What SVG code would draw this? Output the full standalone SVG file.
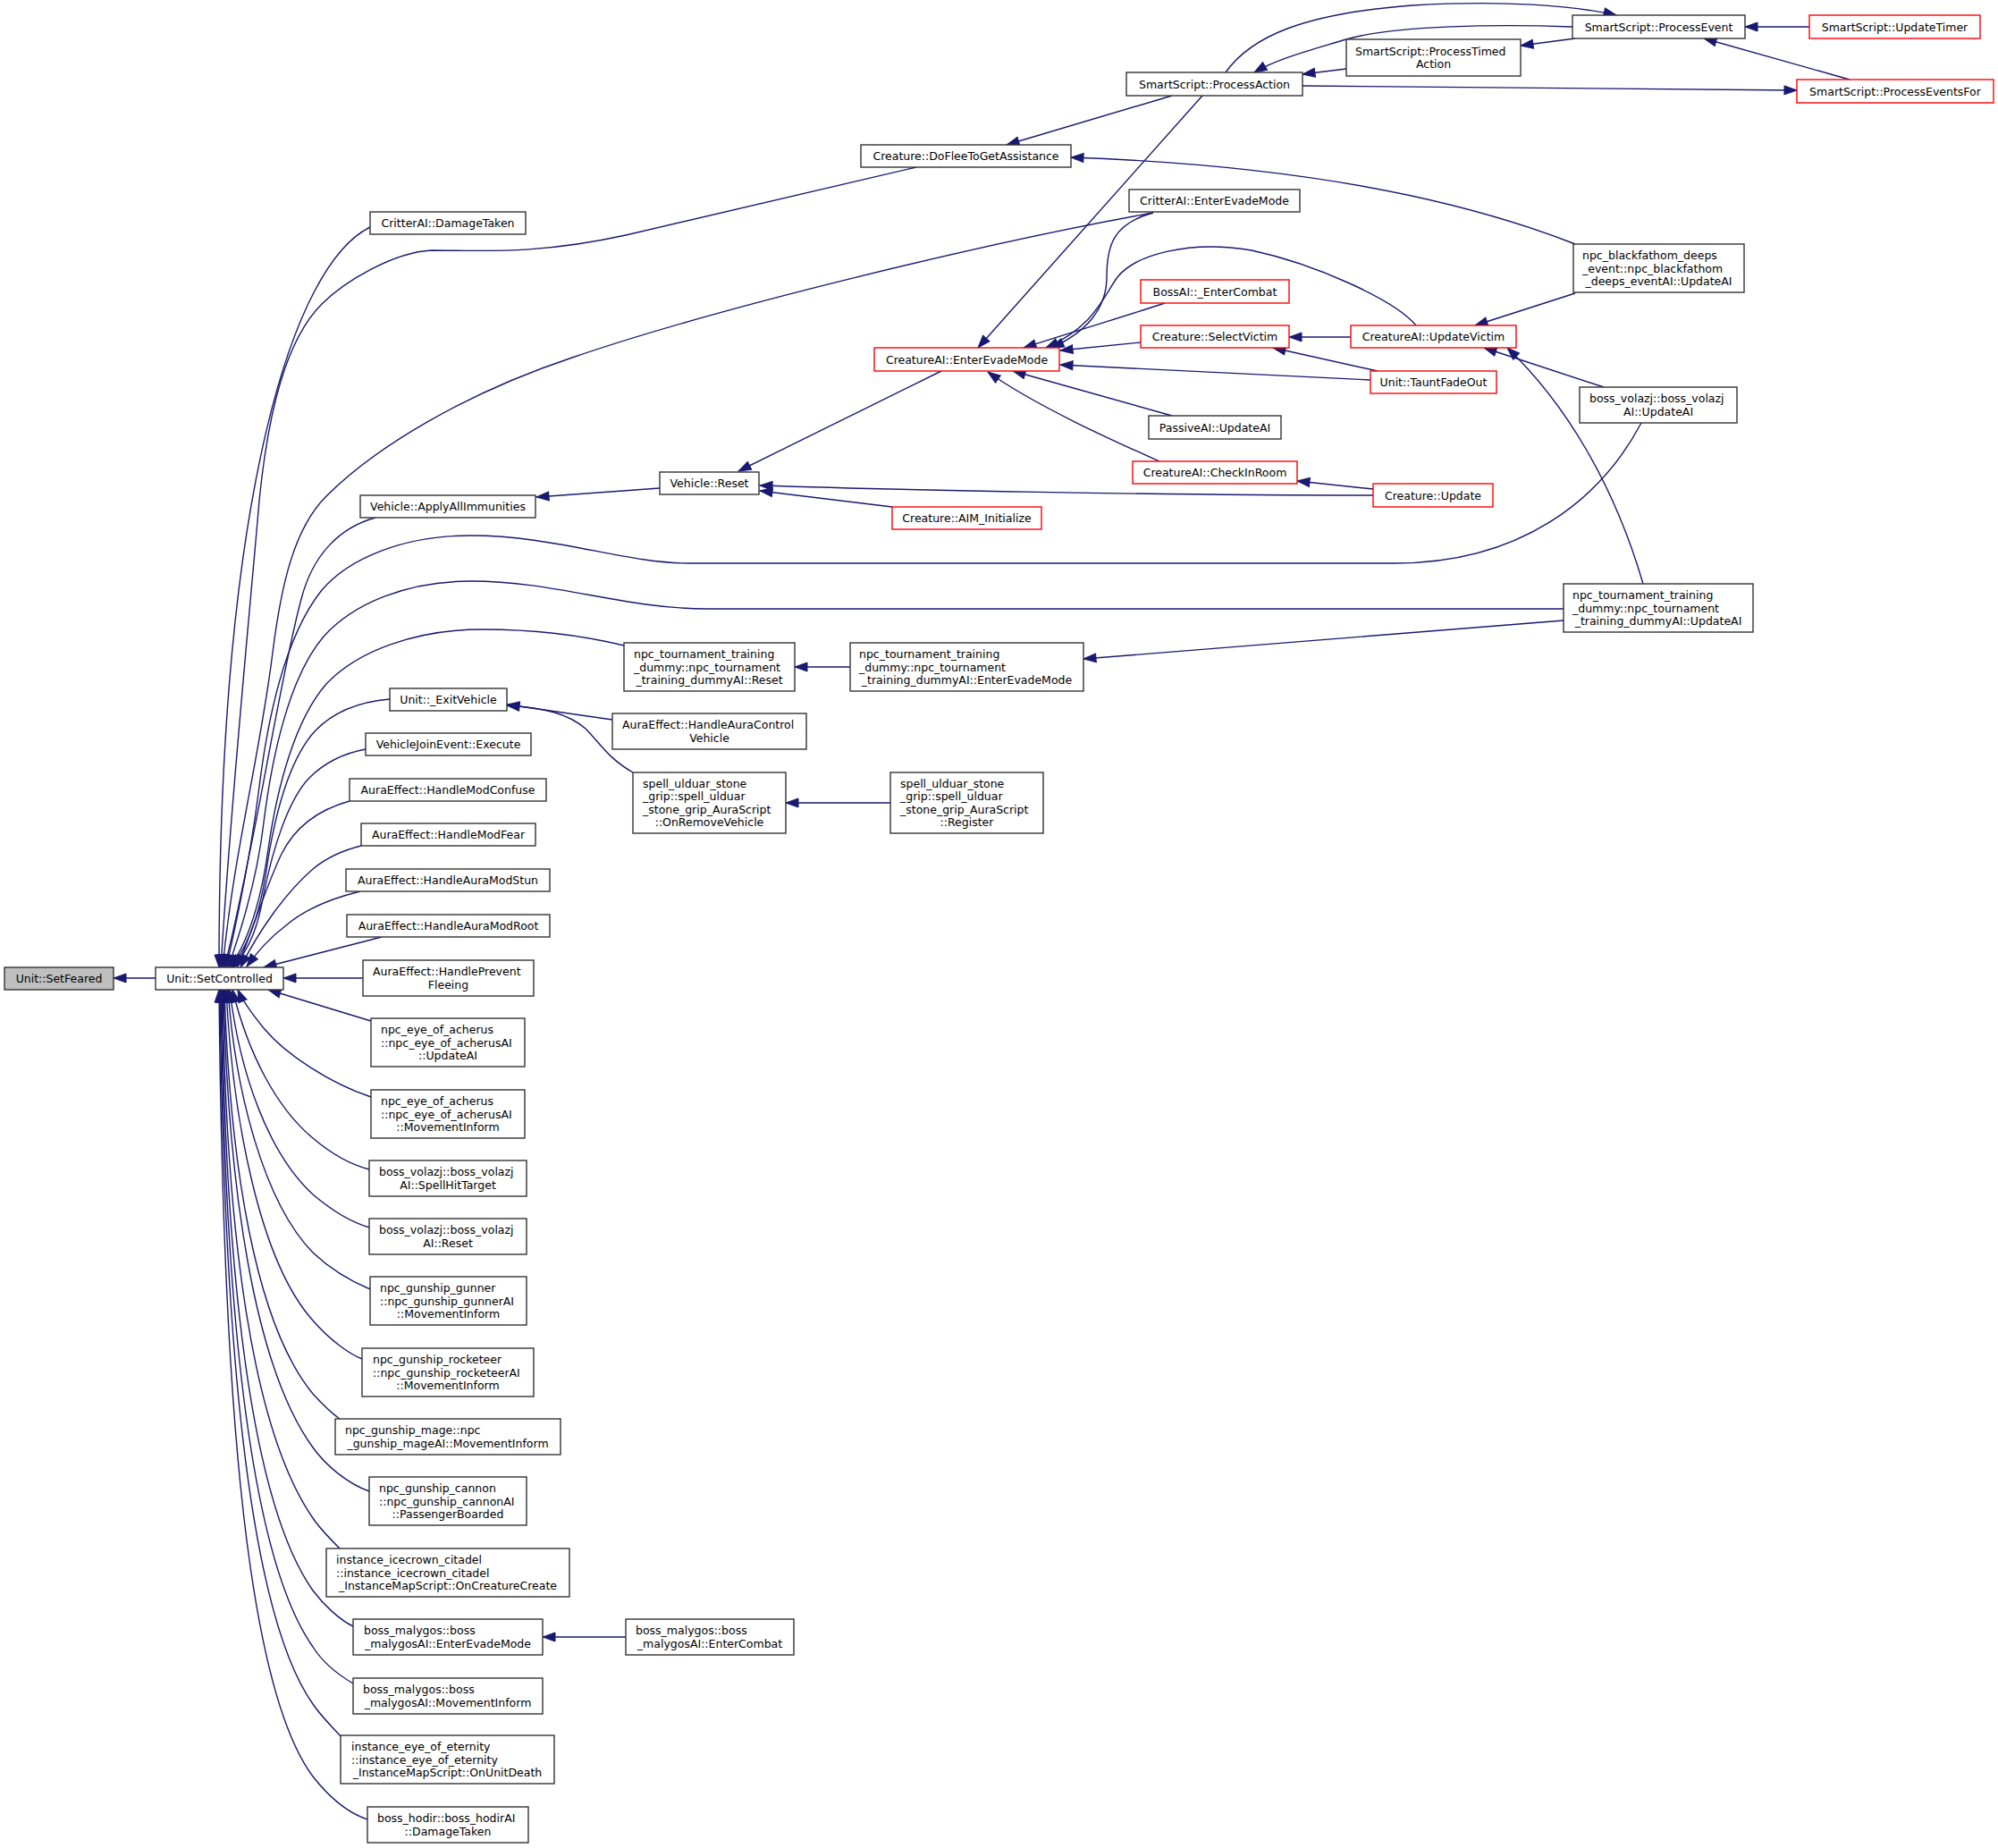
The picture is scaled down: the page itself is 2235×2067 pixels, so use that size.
<svg xmlns="http://www.w3.org/2000/svg" width="2235" height="2067" viewBox="0 0 2235 2067">
<style>
.n{fill:#fff;stroke:#333;stroke-width:1.4}
.r{fill:#fff;stroke:#ff0000;stroke-width:1.4}
.g{fill:#bfbfbf;stroke:#333;stroke-width:1.4}
text{font-family:"DejaVu Sans","Liberation Sans",sans-serif;font-size:12.5px;fill:#000}
.c{text-anchor:middle}
.e{fill:none;stroke:#191970;stroke-width:1.4;marker-end:url(#a)}
</style>
<defs>
<marker id="a" markerUnits="userSpaceOnUse" markerWidth="15" markerHeight="11" viewBox="0 0 15 11" refX="14" refY="5" orient="auto" overflow="visible">
<path d="M0,0 L14,5 L0,10 z" fill="#191970" stroke="#191970" stroke-width="1"/>
</marker>
</defs>
<rect width="2235" height="2067" fill="#fff"/>
<g id="edges">
<path class="e" d="M174,1094 L127,1094"/>
<path class="e" d="M414,254 C330,295 245,544 245,1082"/>
<path class="e" d="M1025,187 L700,263 C600,285 540,280 483,280 C440,282 385,315 360,340 C320,380 300,460 290,560 C278,700 258,900 247,1082"/>
<path class="e" d="M1290,238 C1100,272 800,345 640,400 C520,440 420,500 365,555 C330,590 315,650 305,730 C290,850 262,950 249,1082"/>
<path class="e" d="M420,579 C380,590 350,620 337,670 C318,740 295,880 280,950 C272,990 262,1040 251,1082"/>
<path class="e" d="M1836,473 C1790,560 1700,630 1560,630 L770,630 C700,630 620,599 527,599 C450,599 390,625 360,660 C320,710 300,800 290,880 C280,960 265,1030 253,1082"/>
<path class="e" d="M1749,681 L790,681 C700,681 620,650 527,650 C455,650 395,675 362,712 C325,755 305,840 295,920 C288,980 270,1040 255,1082"/>
<path class="e" d="M698,722 C640,708 590,704 540,704 C465,704 400,728 365,765 C330,805 310,880 300,950 C293,1000 280,1050 257,1082"/>
<path class="e" d="M436,782 C400,785 372,797 352,818 C325,848 310,900 300,960 C293,1010 283,1050 259,1082"/>
<path class="e" d="M409,838 C382,843 362,854 346,870 C322,895 305,950 295,1000 C288,1040 278,1062 261,1082"/>
<path class="e" d="M391,896 C355,906 330,925 315,955 C298,990 283,1040 265,1082"/>
<path class="e" d="M404,946 C380,952 362,962 350,972 C320,998 290,1040 269,1082"/>
<path class="e" d="M403,997 C370,1005 340,1018 320,1035 C300,1050 288,1065 276,1081"/>
<path class="e" d="M427,1048 L295,1082"/>
<path class="e" d="M406,1094 L317,1094"/>
<path class="e" d="M415,1142 L300,1107"/>
<path class="e" d="M415,1227 C370,1212 320,1180 295,1150 C282,1134 272,1121 266,1107"/>
<path class="e" d="M413,1308 C390,1302 370,1290 350,1273 C310,1240 278,1180 260,1107"/>
<path class="e" d="M413,1373 C390,1366 370,1353 350,1336 C300,1290 268,1200 257,1107"/>
<path class="e" d="M414,1442 C390,1432 368,1418 350,1401 C295,1345 263,1220 255,1107"/>
<path class="e" d="M405,1520 C392,1515 370,1500 350,1477 C290,1410 260,1250 253,1107"/>
<path class="e" d="M380,1587 C370,1580 360,1570 350,1559 C285,1480 257,1300 251,1107"/>
<path class="e" d="M413,1668 C390,1660 365,1640 350,1619 C285,1530 255,1330 250,1107"/>
<path class="e" d="M380,1732 C370,1722 358,1710 350,1698 C282,1600 253,1380 249,1107"/>
<path class="e" d="M395,1819 C380,1812 362,1795 350,1779 C280,1680 252,1420 248,1107"/>
<path class="e" d="M395,1883 C378,1873 360,1858 350,1842 C278,1740 251,1450 247,1107"/>
<path class="e" d="M381,1942 C370,1930 358,1918 350,1906 C275,1800 250,1480 246,1107"/>
<path class="e" d="M411,2035 C390,2028 368,2010 350,1987 C270,1880 249,1520 245,1107"/>
<path class="e" d="M738,546 L600,556"/>
<path class="e" d="M1053,415 L826,527"/>
<path class="e" d="M998,567 L850,549"/>
<path class="e" d="M1536,554 C1300,554 1000,548 850,543"/>
<path class="e" d="M1311,107 L1126,162"/>
<path class="e" d="M1762,273 C1640,225 1460,185 1198,176"/>
<path class="e" d="M1345,107 L1094,389"/>
<path class="e" d="M1290,238 C1245,250 1238,275 1238,310 C1238,345 1215,372 1176,389"/>
<path class="e" d="M1584,364 C1560,335 1470,295 1400,280 C1330,268 1270,285 1250,310 C1235,330 1225,365 1170,389"/>
<path class="e" d="M1303,339 C1270,350 1220,365 1145,389"/>
<path class="e" d="M1276,383 L1186,392"/>
<path class="e" d="M1533,425 L1186,408"/>
<path class="e" d="M1311,465 L1133,415"/>
<path class="e" d="M1297,516 C1250,495 1160,455 1105,416"/>
<path class="e" d="M1506,77 L1457,83"/>
<path class="e" d="M1759,30 C1680,27 1560,28 1506,44 C1470,55 1430,65 1403,81"/>
<path class="e" d="M1371,81 C1400,40 1460,15 1580,6 C1680,0 1760,6 1808,17"/>
<path class="e" d="M1762,43 L1701,51"/>
<path class="e" d="M2024,30 L1952,30"/>
<path class="e" d="M2069,89 L1906,43"/>
<path class="e" d="M1457,96 L2010,101"/>
<path class="e" d="M1511,377 L1442,377"/>
<path class="e" d="M1541,415 L1424,389"/>
<path class="e" d="M1762,328 L1650,364"/>
<path class="e" d="M1794,433 L1660,389"/>
<path class="e" d="M1838,653 C1805,540 1750,450 1686,389"/>
<path class="e" d="M1536,547 L1451,538"/>
<path class="e" d="M1749,694 L1212,737"/>
<path class="e" d="M951,746 L889,746"/>
<path class="e" d="M685,805 L567,788"/>
<path class="e" d="M708,864 C680,848 670,830 655,815 C635,798 610,792 567,789"/>
<path class="e" d="M996,898 L879,898"/>
<path class="e" d="M700,1831 L607,1831"/>
</g>
<g id="n_setfeared"><rect class="g" x="5" y="1082" width="122" height="25"/><text class="c" x="66" y="1099">Unit::SetFeared</text></g>
<g id="n_setcontrolled"><rect class="n" x="174" y="1082" width="143" height="25"/><text class="c" x="245.5" y="1099">Unit::SetControlled</text></g>
<g id="n_critterdamage"><rect class="n" x="414" y="237" width="174" height="25"/><text class="c" x="501" y="254">CritterAI::DamageTaken</text></g>
<g id="n_applyall"><rect class="n" x="403" y="554" width="196" height="25"/><text class="c" x="501" y="571">Vehicle::ApplyAllImmunities</text></g>
<g id="n_exitvehicle"><rect class="n" x="436" y="770" width="131" height="25"/><text class="c" x="501.5" y="787">Unit::_ExitVehicle</text></g>
<g id="n_vehiclejoin"><rect class="n" x="409" y="820" width="185" height="25"/><text class="c" x="501.5" y="837">VehicleJoinEvent::Execute</text></g>
<g id="n_confuse"><rect class="n" x="391" y="871" width="220" height="25"/><text class="c" x="501" y="888">AuraEffect::HandleModConfuse</text></g>
<g id="n_fear"><rect class="n" x="404" y="921" width="195" height="25"/><text class="c" x="501.5" y="938">AuraEffect::HandleModFear</text></g>
<g id="n_stun"><rect class="n" x="387" y="972" width="228" height="25"/><text class="c" x="501" y="989">AuraEffect::HandleAuraModStun</text></g>
<g id="n_root"><rect class="n" x="388" y="1023" width="227" height="25"/><text class="c" x="501.5" y="1040">AuraEffect::HandleAuraModRoot</text></g>
<g id="n_prevent"><rect class="n" x="406" y="1074" width="191" height="40"/><text x="417" y="1091.4">AuraEffect::HandlePrevent</text><text class="c" x="501.5" y="1105.7">Fleeing</text></g>
<g id="n_eyeupd"><rect class="n" x="415" y="1139" width="172" height="54"/><text x="426" y="1156.2">npc_eye_of_acherus</text><text x="426" y="1170.5">::npc_eye_of_acherusAI</text><text class="c" x="501" y="1184.8">::UpdateAI</text></g>
<g id="n_eyemove"><rect class="n" x="415" y="1219" width="172" height="54"/><text x="426" y="1236.2">npc_eye_of_acherus</text><text x="426" y="1250.5">::npc_eye_of_acherusAI</text><text class="c" x="501" y="1264.8">::MovementInform</text></g>
<g id="n_volspell"><rect class="n" x="413" y="1298" width="176" height="40"/><text x="424" y="1315.4">boss_volazj::boss_volazj</text><text class="c" x="501" y="1329.7">AI::SpellHitTarget</text></g>
<g id="n_volreset"><rect class="n" x="413" y="1363" width="176" height="40"/><text x="424" y="1380.4">boss_volazj::boss_volazj</text><text class="c" x="501" y="1394.7">AI::Reset</text></g>
<g id="n_gunner"><rect class="n" x="414" y="1428" width="175" height="54"/><text x="425" y="1445.2">npc_gunship_gunner</text><text x="425" y="1459.5">::npc_gunship_gunnerAI</text><text class="c" x="501.5" y="1473.8">::MovementInform</text></g>
<g id="n_rocket"><rect class="n" x="405" y="1508" width="192" height="54"/><text x="417" y="1525.2">npc_gunship_rocketeer</text><text x="417" y="1539.5">::npc_gunship_rocketeerAI</text><text class="c" x="501" y="1553.8">::MovementInform</text></g>
<g id="n_mage"><rect class="n" x="375" y="1587" width="252" height="40"/><text x="386" y="1604.4">npc_gunship_mage::npc</text><text class="c" x="501" y="1618.7">_gunship_mageAI::MovementInform</text></g>
<g id="n_cannon"><rect class="n" x="413" y="1652" width="176" height="54"/><text x="424" y="1669.2">npc_gunship_cannon</text><text x="424" y="1683.5">::npc_gunship_cannonAI</text><text class="c" x="501" y="1697.8">::PassengerBoarded</text></g>
<g id="n_icecrown"><rect class="n" x="365" y="1732" width="272" height="54"/><text x="376" y="1749.2">instance_icecrown_citadel</text><text x="376" y="1763.5">::instance_icecrown_citadel</text><text class="c" x="501" y="1777.8">_InstanceMapScript::OnCreatureCreate</text></g>
<g id="n_malyevade"><rect class="n" x="395" y="1811" width="212" height="40"/><text x="407" y="1828.4">boss_malygos::boss</text><text class="c" x="501" y="1842.7">_malygosAI::EnterEvadeMode</text></g>
<g id="n_malymove"><rect class="n" x="395" y="1877" width="212" height="40"/><text x="406" y="1894.4">boss_malygos::boss</text><text class="c" x="501" y="1908.7">_malygosAI::MovementInform</text></g>
<g id="n_eternity"><rect class="n" x="381" y="1941" width="239" height="54"/><text x="393" y="1958.2">instance_eye_of_eternity</text><text x="393" y="1972.5">::instance_eye_of_eternity</text><text class="c" x="500.5" y="1986.8">_InstanceMapScript::OnUnitDeath</text></g>
<g id="n_hodir"><rect class="n" x="411" y="2021" width="180" height="40"/><text x="422" y="2038.4">boss_hodir::boss_hodirAI</text><text class="c" x="501" y="2052.7">::DamageTaken</text></g>
<g id="n_malycombat"><rect class="n" x="700" y="1811" width="188" height="40"/><text x="711" y="1828.4">boss_malygos::boss</text><text class="c" x="794" y="1842.7">_malygosAI::EnterCombat</text></g>
<g id="n_tourreset"><rect class="n" x="698" y="719" width="191" height="54"/><text x="709" y="736.2">npc_tournament_training</text><text x="709" y="750.5">_dummy::npc_tournament</text><text class="c" x="793.5" y="764.8">_training_dummyAI::Reset</text></g>
<g id="n_tourevade"><rect class="n" x="951" y="719" width="261" height="54"/><text x="961" y="736.2">npc_tournament_training</text><text x="961" y="750.5">_dummy::npc_tournament</text><text class="c" x="1081.5" y="764.8">_training_dummyAI::EnterEvadeMode</text></g>
<g id="n_auractrl"><rect class="n" x="685" y="798" width="217" height="40"/><text x="696" y="815.4">AuraEffect::HandleAuraControl</text><text class="c" x="793.5" y="829.7">Vehicle</text></g>
<g id="n_uldremove"><rect class="n" x="708" y="864" width="171" height="68"/><text x="719" y="881">spell_ulduar_stone</text><text x="719" y="895.3">_grip::spell_ulduar</text><text x="719" y="909.6">_stone_grip_AuraScript</text><text class="c" x="793.5" y="923.9">::OnRemoveVehicle</text></g>
<g id="n_uldregister"><rect class="n" x="996" y="864" width="171" height="68"/><text x="1007" y="881">spell_ulduar_stone</text><text x="1007" y="895.3">_grip::spell_ulduar</text><text x="1007" y="909.6">_stone_grip_AuraScript</text><text class="c" x="1081.5" y="923.9">::Register</text></g>
<g id="n_vehreset"><rect class="n" x="738" y="528" width="111" height="25"/><text class="c" x="793.5" y="545">Vehicle::Reset</text></g>
<g id="n_aiminit"><rect class="r" x="998" y="567" width="167" height="25"/><text class="c" x="1081.5" y="584">Creature::AIM_Initialize</text></g>
<g id="n_doflee"><rect class="n" x="963" y="162" width="235" height="25"/><text class="c" x="1080.5" y="179">Creature::DoFleeToGetAssistance</text></g>
<g id="n_enterevade"><rect class="r" x="978" y="389" width="207" height="26"/><text class="c" x="1081.5" y="406.5">CreatureAI::EnterEvadeMode</text></g>
<g id="n_processaction"><rect class="n" x="1260" y="81" width="197" height="26"/><text class="c" x="1358.5" y="98.5">SmartScript::ProcessAction</text></g>
<g id="n_proctimed"><rect class="n" x="1506" y="44" width="195" height="41"/><text x="1516" y="61.6">SmartScript::ProcessTimed</text><text class="c" x="1603.5" y="75.9">Action</text></g>
<g id="n_procevent"><rect class="n" x="1759" y="17" width="193" height="26"/><text class="c" x="1855.5" y="34.5">SmartScript::ProcessEvent</text></g>
<g id="n_updatetimer"><rect class="r" x="2024" y="17" width="191" height="26"/><text class="c" x="2119.5" y="34.5">SmartScript::UpdateTimer</text></g>
<g id="n_proceventsfor"><rect class="r" x="2010" y="89" width="220" height="26"/><text class="c" x="2120" y="106.5">SmartScript::ProcessEventsFor</text></g>
<g id="n_critterevade"><rect class="n" x="1263" y="212" width="191" height="25"/><text class="c" x="1358.5" y="229">CritterAI::EnterEvadeMode</text></g>
<g id="n_bossai"><rect class="r" x="1276" y="313" width="166" height="26"/><text class="c" x="1359" y="330.5">BossAI::_EnterCombat</text></g>
<g id="n_blackfathom"><rect class="n" x="1760" y="273" width="191" height="54"/><text x="1770" y="290.2">npc_blackfathom_deeps</text><text x="1770" y="304.5">_event::npc_blackfathom</text><text class="c" x="1855.5" y="318.8">_deeps_eventAI::UpdateAI</text></g>
<g id="n_selectvictim"><rect class="r" x="1276" y="364" width="166" height="25"/><text class="c" x="1359" y="381">Creature::SelectVictim</text></g>
<g id="n_updatevictim"><rect class="r" x="1511" y="364" width="185" height="25"/><text class="c" x="1603.5" y="381">CreatureAI::UpdateVictim</text></g>
<g id="n_taunt"><rect class="r" x="1533" y="415" width="141" height="25"/><text class="c" x="1603.5" y="432">Unit::TauntFadeOut</text></g>
<g id="n_passive"><rect class="n" x="1285" y="465" width="148" height="26"/><text class="c" x="1359" y="482.5">PassiveAI::UpdateAI</text></g>
<g id="n_checkinroom"><rect class="r" x="1267" y="516" width="184" height="25"/><text class="c" x="1359" y="533">CreatureAI::CheckInRoom</text></g>
<g id="n_creatureupdate"><rect class="r" x="1536" y="541" width="134" height="26"/><text class="c" x="1603" y="558.5">Creature::Update</text></g>
<g id="n_volupdate"><rect class="n" x="1767" y="433" width="176" height="40"/><text x="1778" y="450.4">boss_volazj::boss_volazj</text><text class="c" x="1855" y="464.7">AI::UpdateAI</text></g>
<g id="n_tourupdate"><rect class="n" x="1749" y="653" width="212" height="54"/><text x="1759" y="670.2">npc_tournament_training</text><text x="1759" y="684.5">_dummy::npc_tournament</text><text class="c" x="1855" y="698.8">_training_dummyAI::UpdateAI</text></g>
</svg>
